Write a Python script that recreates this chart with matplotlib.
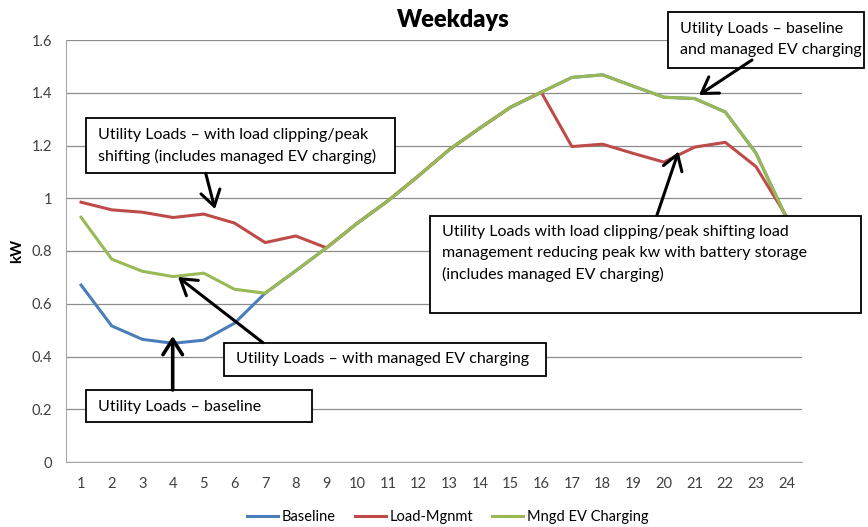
import numpy as np
import matplotlib
matplotlib.use("Agg")
import matplotlib.pyplot as plt
from matplotlib.patches import Rectangle, FancyArrowPatch

plt.rcParams['font.family'] = ['Lato', 'DejaVu Sans']

hours = list(range(1, 25))
baseline = [0.671, 0.516, 0.465, 0.450, 0.462, 0.526, 0.640, 0.725, 0.812, 0.905, 0.990, 1.085,
            1.184, 1.266, 1.345, 1.402, 1.458, 1.468, 1.425, 1.383, 1.378, 1.327, 1.171, 0.924]
load_mgnmt = [0.985, 0.956, 0.947, 0.927, 0.940, 0.906, 0.832, 0.857, 0.812, 0.905, 0.990, 1.085,
              1.184, 1.266, 1.345, 1.402, 1.196, 1.205, 1.170, 1.137, 1.194, 1.212, 1.120, 0.930]
mngd_ev = [0.928, 0.769, 0.723, 0.703, 0.716, 0.655, 0.640, 0.725, 0.812, 0.905, 0.990, 1.085,
           1.184, 1.266, 1.345, 1.402, 1.458, 1.468, 1.425, 1.383, 1.378, 1.327, 1.171, 0.924]
y_ticks = [0, 0.2, 0.4, 0.6, 0.8, 1.0, 1.2, 1.4, 1.6]
y_tick_labels = ['0', '0.2', '0.4', '0.6', '0.8', '1', '1.2', '1.4', '1.6']

W, H = 868, 527
fig = plt.figure(figsize=(W / 100, H / 100), dpi=100)


def fp(x, y):
    # pixel position (from top-left) -> figure fraction
    return (x / W, 1 - y / H)


ax = fig.add_axes([65.7 / W, 1 - 462 / H, (802 - 65.7) / W, (462 - 40) / H])
ax.plot(hours, baseline, color='#4A7EBB', lw=2.2, label='Baseline')
ax.plot(hours, load_mgnmt, color='#BE4B48', lw=2.2, label='Load-Mgnmt')
ax.plot(hours, mngd_ev, color='#98B954', lw=2.2, label='Mngd EV Charging')

ax.set_xlim(0.5, 24.5)
ax.set_ylim(0, 1.6)
ax.set_xticks(hours)
ax.set_yticks(y_ticks)
ax.set_yticklabels(y_tick_labels)
ax.tick_params(length=0, labelsize=10.5, colors='#404040', pad=10)
ax.tick_params(axis='x', pad=11)
ax.grid(axis='y', color='#8C8C8C', lw=0.9)
ax.set_axisbelow(True)
for side in ['top', 'right']:
    ax.spines[side].set_visible(False)
for side in ['left', 'bottom']:
    ax.spines[side].set_color('#A6A6A6')
ax.set_ylabel('kW', fontsize=11, fontweight='bold', labelpad=5)

fig.text(453 / W, 1 - 20 / H, 'Weekdays', ha='center', va='center',
         fontsize=17, fontweight='heavy')

leg = fig.legend(loc='center', bbox_to_anchor=(448 / W, 1 - 517 / H), ncol=3,
                 frameon=False, fontsize=10.5, handlelength=2.1, columnspacing=1.3,
                 handletextpad=0.3)

# annotation boxes: (left, top, right, bottom) in pixels, text lines, text x, first line y, line step
boxes = [
    ((86, 117.7, 395, 172.7), ['Utility Loads \u2013 with load clipping/peak',
                               'shifting (includes managed EV charging)'], 98, 135, 21),
    ((86, 390, 312, 421.7), ['Utility Loads \u2013 baseline'], 98, 406.5, 21),
    ((224.3, 342.7, 546.3, 376), ['Utility Loads \u2013 with managed EV charging'], 236, 359, 21),
    ((430.3, 215.7, 861, 313.3), ['Utility Loads with load clipping/peak shifting load',
                                  'management reducing peak kw with battery storage',
                                  '(includes managed EV charging)'], 442, 231.7, 21.2),
    ((668.3, 12, 864, 68.3), ['Utility Loads \u2013 baseline',
                              'and managed EV charging'], 680.5, 29.3, 20.7),
]
for (l, t, r, b), lines, tx, ty, step in boxes:
    x0, y0 = fp(l, b)
    rect = Rectangle((x0, y0), (r - l) / W, (b - t) / H, transform=fig.transFigure,
                     facecolor='white', edgecolor='black', lw=1.3, zorder=5)
    fig.add_artist(rect)
    for i, line in enumerate(lines):
        fig.text(tx / W, 1 - (ty + i * step) / H, line, ha='left', va='center',
                 fontsize=11.5, zorder=6)

arrows = [
    ((205.7, 173.3), (215, 209), 2.2),
    ((172.7, 390), (172.7, 336), 2.6),
    ((263, 342.7), (178, 277), 2.2),
    ((657, 215), (678.5, 151.5), 2.2),
    ((752, 60), (699, 95), 2.2),
]
for start, end, lw in arrows:
    arr = FancyArrowPatch(fp(*start), fp(*end), transform=fig.transFigure,
                          arrowstyle='->,head_length=0.55,head_width=0.35',
                          mutation_scale=20, lw=lw, color='black', zorder=7,
                          shrinkA=0, shrinkB=0)
    fig.add_artist(arr)

fig.savefig('out.png', dpi=100)
